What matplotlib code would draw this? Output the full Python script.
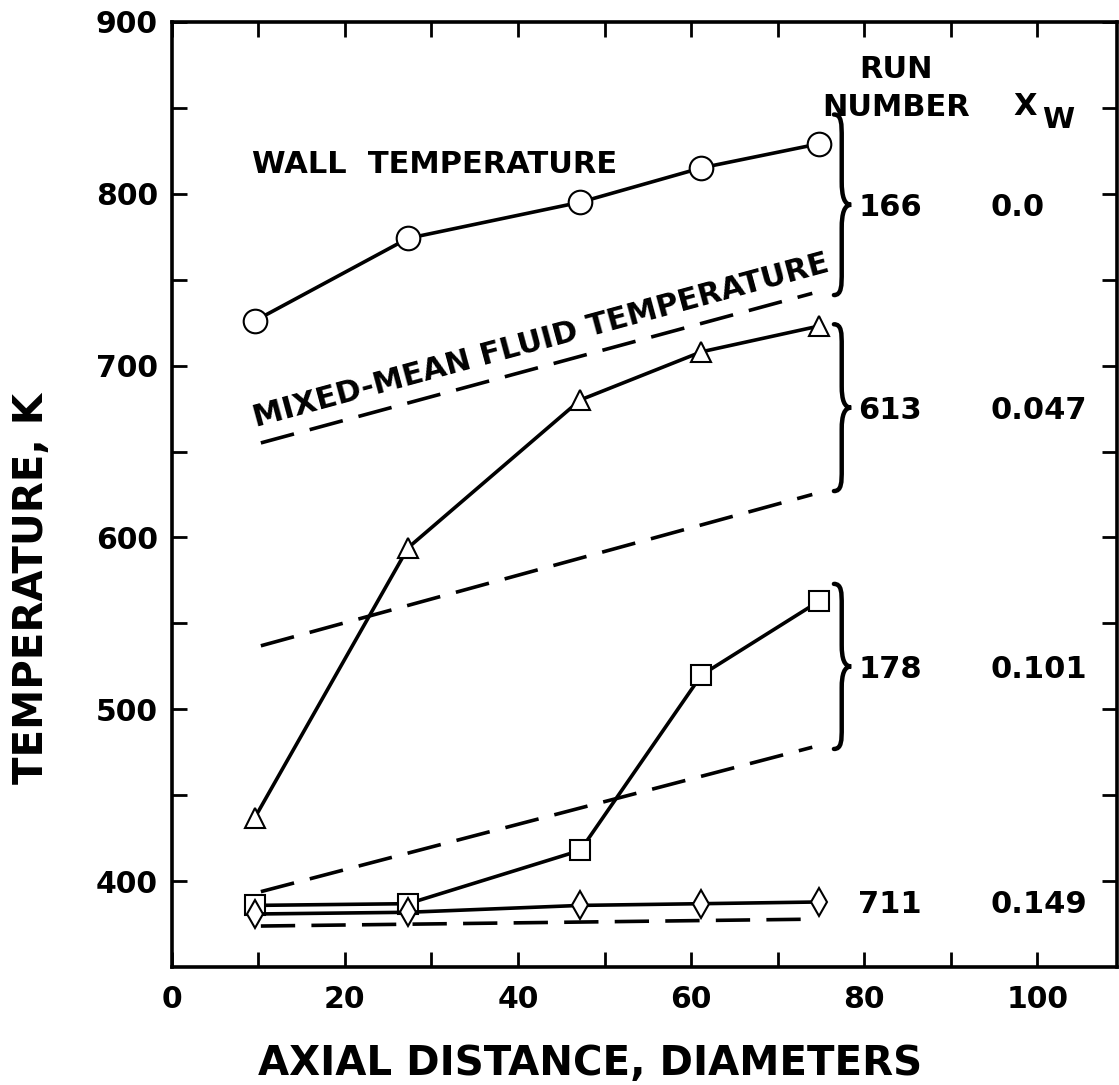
import numpy as np
import matplotlib
matplotlib.use("Agg")
import matplotlib.pyplot as plt
from matplotlib.path import Path
from matplotlib.patches import PathPatch

plt.rcParams['font.family'] = ['DejaVu Sans']
plt.rcParams['font.weight'] = 'bold'

# axial measuring stations, diameters
axial = [9.6, 27.3, 47.2, 61.2, 74.8]

run_numbers = ["166", "613", "178", "711"]
x_w = ["0.0", "0.047", "0.101", "0.149"]
markers = ["o", "^", "s", "d"]
marker_sizes = [17, 14, 15, 14]

# wall temperature, K
wall_166 = [726, 774, 795, 815, 829]
wall_613 = [437, 594, 680, 708, 723]
wall_178 = [386, 387, 418, 520, 563]
wall_711 = [381, 382, 386, 387, 388]

# mixed-mean fluid temperature, K (straight line between end stations)
fluid_x = [10.3, 74.0]
fluid_166 = [655, 742]
fluid_613 = [537, 625]
fluid_178 = [394, 478]
fluid_711 = [374, 378]

# brace extents (low, high) grouping wall and fluid curves of a run
brace_166 = [741, 846]
brace_613 = [627, 724]
brace_178 = [477, 573]

x_ticks_major = [0, 20, 40, 60, 80, 100]
y_ticks_major = [400, 500, 600, 700, 800, 900]

W, H = 1119, 1085
fig = plt.figure(figsize=(W / 100, H / 100), dpi=100)
left, right, top, bottom = 171.7, 1117.0, 21.7, 967.3
ax = fig.add_axes([left / W, (H - bottom) / H, (right - left) / W, (bottom - top) / H])
ax.set_xlim(0, 109.2)
ax.set_ylim(350, 900)

LW = 2.6
walls = [wall_166, wall_613, wall_178, wall_711]
fluids = [fluid_166, fluid_613, fluid_178, fluid_711]

for f in fluids:
    ax.plot(fluid_x, f, color='black', lw=LW, dashes=(9.5, 4.5), solid_capstyle='butt', zorder=2)

for w, m, ms in zip(walls, markers, marker_sizes):
    ax.plot(axial, w, '-', color='black', lw=LW, marker=m, ms=ms,
            mfc='white', mec='black', mew=1.5, zorder=3)


def curly_brace(ax, x0, y0, y1, width):
    """Right-pointing curly brace from y0 to y1 starting at x0 (data units)."""
    ym = 0.5 * (y0 + y1)
    q = 0.13 * (y1 - y0)
    xs = x0 + 0.45 * width
    verts = [
        (x0, y1),
        (xs, y1), (xs, y1 - 0.4 * q), (xs, y1 - q),
        (xs, ym + q),
        (xs, ym + 0.35 * q), (x0 + 0.6 * width, ym), (x0 + width, ym),
        (x0 + 0.6 * width, ym), (xs, ym - 0.35 * q), (xs, ym - q),
        (xs, y0 + q),
        (xs, y0 + 0.4 * q), (xs, y0), (x0, y0),
    ]
    codes = [Path.MOVETO,
             Path.CURVE4, Path.CURVE4, Path.CURVE4,
             Path.LINETO,
             Path.CURVE4, Path.CURVE4, Path.CURVE4,
             Path.CURVE4, Path.CURVE4, Path.CURVE4,
             Path.LINETO,
             Path.CURVE4, Path.CURVE4, Path.CURVE4]
    ax.add_patch(PathPatch(Path(verts, codes), fill=False, lw=3.2,
                           edgecolor='black', capstyle='round', zorder=3))
    return ym


FS = 22
label_heights = []
for b in [brace_166, brace_613, brace_178]:
    label_heights.append(curly_brace(ax, 76.5, b[0], b[1], 2.0))
label_heights.append(wall_711[-1])

for run, xw, yv in zip(run_numbers, x_w, label_heights):
    ax.text(79.3, yv, run, fontsize=FS, ha='left', va='center_baseline')
    ax.text(94.6, yv, xw, fontsize=FS, ha='left', va='center_baseline')

ax.text(83.7, 874, "RUN", fontsize=FS, ha='center', va='center_baseline')
ax.text(83.7, 852, "NUMBER", fontsize=FS, ha='center', va='center_baseline')
ax.text(97.2, 852.7, "X", fontsize=FS, ha='left', va='center_baseline')
ax.text(100.5, 844.3, "W", fontsize=FS - 1, ha='left', va='center_baseline')

ax.text(9.3, 818.7, "WALL  TEMPERATURE", fontsize=FS, ha='left', va='center_baseline')

# label running along the upper fluid-temperature line
angle = np.degrees(np.arctan2(fluid_166[1] - fluid_166[0], fluid_x[1] - fluid_x[0]))
ax.text(9.7, 664, "MIXED-MEAN FLUID TEMPERATURE", fontsize=FS, ha='left',
        va='baseline', rotation=angle, rotation_mode='anchor',
        transform_rotates_text=True)

# axes styling
for s in ax.spines.values():
    s.set_linewidth(2.6)
ticks_x = np.arange(0, 110, 10)
ticks_y = np.arange(400, 901, 50)
ax.set_xticks(ticks_x)
ax.set_xticklabels([str(v) if v in x_ticks_major else "" for v in ticks_x])
ax.set_yticks(ticks_y)
ax.set_yticklabels([str(v) if v in y_ticks_major else "" for v in ticks_y])
ax.tick_params(direction='in', length=11, width=2.0, top=True, right=True,
               labelsize=21.5)
ax.tick_params(axis='x', pad=13)
ax.tick_params(axis='y', pad=10)

ax.set_xlabel("AXIAL DISTANCE, DIAMETERS", fontsize=29, fontweight='bold')
ax.set_ylabel("TEMPERATURE, K", fontsize=29, fontweight='bold')
ax.xaxis.set_label_coords(0.4425, -0.102)
ax.xaxis.label.set_va('center')
ax.yaxis.set_label_coords(-0.148, 0.401)
ax.yaxis.label.set_va('center')

fig.savefig("out.png", dpi=100)
